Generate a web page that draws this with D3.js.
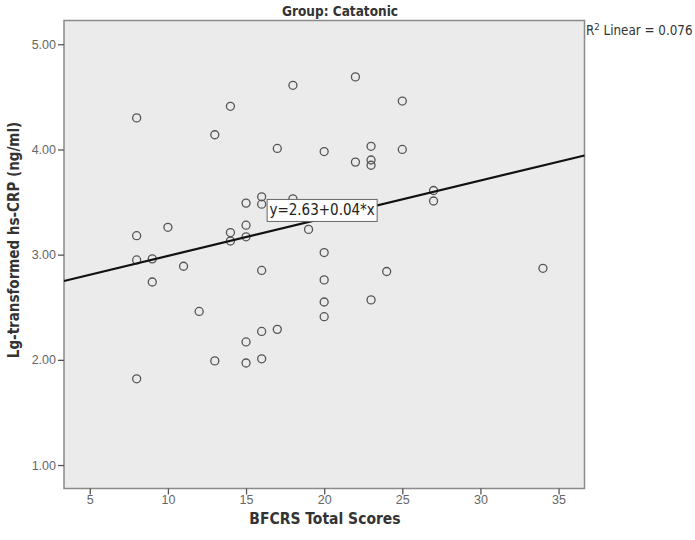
<!DOCTYPE html>
<html>
<head>
<meta charset="utf-8">
<script src="https://cdn.jsdelivr.net/npm/d3@7"></script>
<style>
  body { margin: 0; background: #fff; }
  svg { display: block; font-family: "DejaVu Sans Condensed", "DejaVu Sans", sans-serif; }
</style>
</head>
<body>
<div class="chart"></div>
<script>
// Data: BFCRS total score vs Lg-transformed hs-CRP
const scores = [8, 8, 8, 8, 9, 9, 10, 11, 12, 13, 13, 14, 14, 14,
  15, 15, 15, 15, 15, 16, 16, 16, 16, 16, 17, 17, 18, 18, 19,
  20, 20, 20, 20, 20, 22, 22, 23, 23, 23, 23, 24, 25, 25, 27, 27, 34];
const crp = [4.30, 3.18, 2.95, 1.82, 2.96, 2.74, 3.26, 2.89, 2.46, 4.14, 1.99, 4.41, 3.21, 3.13,
  3.49, 3.28, 3.17, 2.17, 1.97, 3.55, 3.48, 2.85, 2.27, 2.01, 4.01, 2.29, 4.61, 3.53, 3.24,
  3.98, 3.02, 2.76, 2.55, 2.41, 4.69, 3.88, 4.03, 3.90, 3.85, 2.57, 2.84, 4.46, 4.00, 3.61, 3.51, 2.87];

const xTicks = [5, 10, 15, 20, 25, 30, 35];
const yTicks = [1, 2, 3, 4, 5];

// Linear fit shown in the chart
const fitIntercept = 2.63;
const fitSlope = 0.0358;
const fitLabel = 'y=2.63+0.04*x';
const r2Label = ' Linear = 0.076';

const width = 695;
const height = 540;
const frame = { left: 64, right: 584.5, top: 20.5, bottom: 488.5 };

const svg = d3.select('.chart')
  .append('svg')
  .attr('width', width)
  .attr('height', height);

// Scales
const x = d3.scaleLinear().domain([3.35, 36.66]).range([frame.left, frame.right]);
const y = d3.scaleLinear().domain([0.777, 5.226]).range([frame.bottom, frame.top]);

// Plot background
svg.append('rect')
  .attr('x', frame.left)
  .attr('y', frame.top)
  .attr('width', frame.right - frame.left)
  .attr('height', frame.bottom - frame.top)
  .attr('fill', '#ebebeb')
  .attr('stroke', '#8a8a8a')
  .attr('stroke-width', 1.5);

// X Axis
const xAxis = svg.append('g')
  .attr('transform', `translate(0,${frame.bottom})`)
  .call(d3.axisBottom(x).tickValues(xTicks).tickSize(6).tickPadding(1).tickFormat(d3.format('d')));
xAxis.select('.domain').remove();
xAxis.selectAll('line').attr('stroke', '#555').attr('stroke-width', 1.3);
xAxis.selectAll('text').attr('fill', '#666').attr('font-size', 12.5).attr('font-family', null);

// Y Axis
const yAxis = svg.append('g')
  .attr('transform', `translate(${frame.left},0)`)
  .call(d3.axisLeft(y).tickValues(yTicks).tickSize(6).tickPadding(2).tickFormat(d3.format('.2f')));
yAxis.select('.domain').remove();
yAxis.selectAll('line').attr('stroke', '#555').attr('stroke-width', 1.3);
yAxis.selectAll('text').attr('fill', '#666').attr('font-size', 12.5).attr('font-family', null);

// Points
svg.selectAll('.dot')
  .data(scores.map((s, i) => ({ s, v: crp[i] })))
  .enter().append('circle')
  .attr('class', 'dot')
  .attr('cx', d => x(d.s))
  .attr('cy', d => y(d.v))
  .attr('r', 4)
  .attr('fill', 'none')
  .attr('stroke', '#555')
  .attr('stroke-width', 1.3);

// Fit line
const [x0, x1] = x.domain();
svg.append('line')
  .attr('x1', x(x0))
  .attr('y1', y(fitIntercept + fitSlope * x0))
  .attr('x2', x(x1))
  .attr('y2', y(fitIntercept + fitSlope * x1))
  .attr('stroke', '#111')
  .attr('stroke-width', 2.2);

// Fit equation box
const boxX = x(16.35), boxY = y(3.525);
svg.append('rect')
  .attr('x', boxX)
  .attr('y', boxY)
  .attr('width', 110)
  .attr('height', 22)
  .attr('fill', '#fff')
  .attr('stroke', '#666')
  .attr('stroke-width', 1);
svg.append('text')
  .attr('x', boxX + 55)
  .attr('y', boxY + 16)
  .attr('text-anchor', 'middle')
  .attr('font-size', 15)
  .attr('fill', '#222')
  .text(fitLabel);

// Title
svg.append('text')
  .attr('x', 340)
  .attr('y', 16)
  .attr('text-anchor', 'middle')
  .attr('font-size', 13.5)
  .attr('font-weight', 'bold')
  .attr('fill', '#333')
  .text('Group: Catatonic');

// R squared
const r2 = svg.append('text')
  .attr('x', 586)
  .attr('y', 35)
  .attr('font-size', 13.3)
  .attr('fill', '#333');
r2.append('tspan').text('R');
r2.append('tspan').attr('font-size', 9.5).attr('dy', -5).text('2');
r2.append('tspan').attr('dy', 5).text(r2Label);

// Axis titles
svg.append('text')
  .attr('x', 325)
  .attr('y', 524)
  .attr('text-anchor', 'middle')
  .attr('font-size', 15.5)
  .attr('font-weight', 'bold')
  .attr('fill', '#333')
  .text('BFCRS Total Scores');

svg.append('text')
  .attr('transform', 'translate(19,240) rotate(-90)')
  .attr('text-anchor', 'middle')
  .attr('font-size', 15)
  .attr('font-weight', 'bold')
  .attr('fill', '#333')
  .text('Lg-transformed hs-CRP (ng/ml)');
</script>
</body>
</html>
